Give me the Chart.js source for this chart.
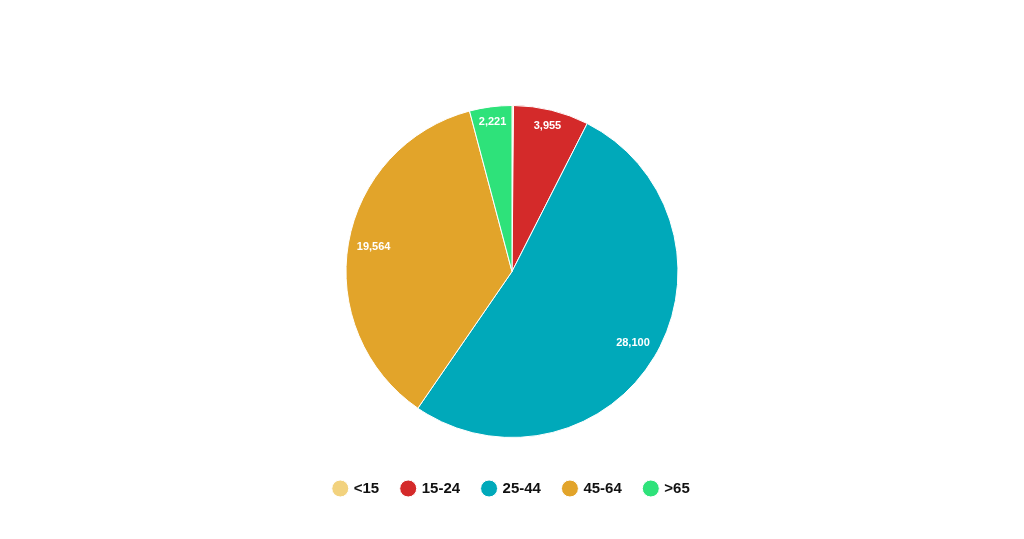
<!DOCTYPE html>
<html>
<head>
<meta charset="utf-8">
<script src="https://cdn.jsdelivr.net/npm/chart.js@4"></script>
<style>
  html, body { margin: 0; padding: 0; background: #fff; }
  #wrap { width: 1024px; height: 539px; }
</style>
</head>
<body>
<div id="wrap"><canvas id="ageChart"></canvas></div>
<script>
const ageGroups = ["<15", "15-24", "25-44", "45-64", ">65"];
const population = [80, 3955, 28100, 19564, 2221];
const sliceColors = ["#f2d27e", "#d42a2a", "#00a9ba", "#e2a42a", "#2ee27a"];

// simple value labels (like datalabels anchor end / align start)
const valueLabels = {
  id: "valueLabels",
  afterDatasetsDraw(chart) {
    const ctx = chart.ctx;
    const total = population.reduce((a, b) => a + b, 0);
    const meta = chart.getDatasetMeta(0);
    ctx.save();
    ctx.font = "bold 11px Arial, 'Liberation Sans', sans-serif";
    ctx.fillStyle = "#fff";
    ctx.textAlign = "center";
    ctx.textBaseline = "middle";
    meta.data.forEach((arc, i) => {
      if (population[i] / total < 0.01) return;
      const p = arc.getProps(["x", "y", "startAngle", "endAngle", "outerRadius"], true);
      const a = (p.startAngle + p.endAngle) / 2;
      const text = population[i].toLocaleString("en-US");
      const w = ctx.measureText(text).width;
      const h = 11;
      const ext = Math.abs(Math.cos(a)) * w / 2 + Math.abs(Math.sin(a)) * h / 2;
      const r = p.outerRadius - 8 - ext;
      ctx.fillText(text, p.x + Math.cos(a) * r, p.y + Math.sin(a) * r);
    });
    ctx.restore();
  }
};

new Chart(document.getElementById("ageChart"), {
  type: "pie",
  data: {
    labels: ageGroups,
    datasets: [{
      data: population,
      backgroundColor: sliceColors,
      borderColor: "#fff",
      borderWidth: 1,
      radius: 166
    }]
  },
  options: {
    responsive: true,
    maintainAspectRatio: false,
    animation: false,
    layout: { padding: { top: 85, bottom: 33 } },
    plugins: {
      tooltip: { enabled: false },
      legend: {
        position: "bottom",
        labels: {
          color: "#111",
          usePointStyle: true,
          pointStyle: "circle",
          boxWidth: 12,
          boxHeight: 12,
          padding: 23,
          font: { family: "Arial, 'Liberation Sans', sans-serif", size: 15, weight: "bold" }
        }
      }
    }
  },
  plugins: [valueLabels]
});
</script>
</body>
</html>
